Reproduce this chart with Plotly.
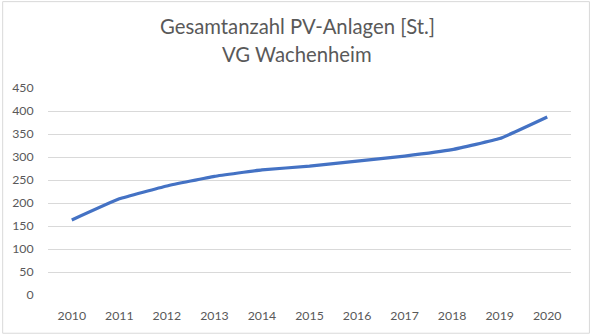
import plotly.graph_objects as go

years = ["2010", "2011", "2012", "2013", "2014", "2015", "2016", "2017", "2018", "2019", "2020"]
anlagen = [163, 209, 237, 258, 272, 280, 291, 302, 316, 340, 387]
y_ticks = [0, 50, 100, 150, 200, 250, 300, 350, 400, 450]
title_line1 = "Gesamtanzahl PV-Anlagen [St.]"
title_line2 = "VG Wachenheim"

FONT = "Lato, Calibri, Carlito, sans-serif"
GRAY = "#595959"

fig = go.Figure()
fig.add_trace(go.Scatter(
    x=years, y=anlagen, mode="lines",
    line=dict(color="#4472C4", width=3.2, shape="spline", smoothing=0.3),
    hoverinfo="x+y", showlegend=False,
))

W, H = 590, 335
L, R, T, B = 46, 19, 87.5, 39
pw, ph = W - L - R, H - T - B

fig.update_layout(
    width=W, height=H,
    margin=dict(l=L, r=R, t=T, b=B),
    paper_bgcolor="white", plot_bgcolor="white",
    font=dict(family=FONT, color=GRAY, size=12),
    xaxis=dict(
        type="category", range=[-0.5, len(years) - 0.5],
        showgrid=False, zeroline=False, showline=False,
        ticks="outside", ticklen=9, tickcolor="rgba(0,0,0,0)",
        tickfont=dict(size=12.3, color=GRAY), fixedrange=True,
    ),
    yaxis=dict(
        range=[0, 450], tickvals=y_ticks, showgrid=True, gridcolor="#D9D9D9",
        gridwidth=1, zeroline=False, showline=False,
        ticks="outside", ticklen=11, tickcolor="rgba(0,0,0,0)",
        tickfont=dict(size=12.3, color=GRAY), fixedrange=True,
    ),
    shapes=[dict(
        type="rect", xref="paper", yref="paper",
        x0=(0.5 - L) / pw, x1=(W - 0.5 - L) / pw,
        y0=-(B - 0.5) / ph, y1=(H - B - 0.5) / ph,
        line=dict(color="#D9D9D9", width=1), layer="below",
    )],
    annotations=[
        dict(text=title_line1, xref="paper", yref="paper",
             x=(296 - L) / pw, y=(H - B - 25) / ph, xanchor="center", yanchor="middle",
             showarrow=False, font=dict(family=FONT, size=20.3, color=GRAY)),
        dict(text=title_line2, xref="paper", yref="paper",
             x=(296 - L) / pw, y=(H - B - 53) / ph, xanchor="center", yanchor="middle",
             showarrow=False, font=dict(family=FONT, size=20.3, color=GRAY)),
    ],
)

fig.write_html("out.html")
